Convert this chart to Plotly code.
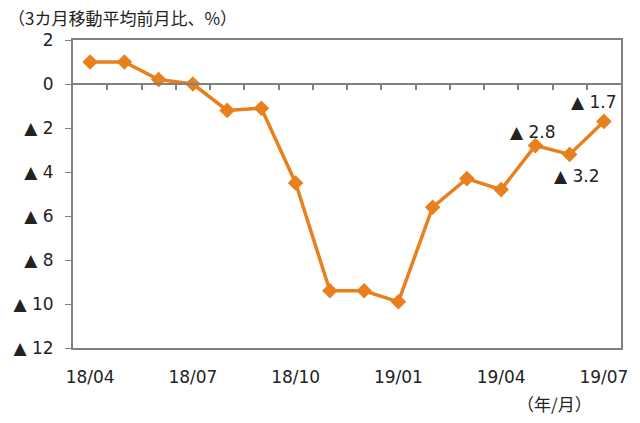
import plotly.graph_objects as go

months = ["18/04", "18/05", "18/06", "18/07", "18/08", "18/09", "18/10", "18/11",
          "18/12", "19/01", "19/02", "19/03", "19/04", "19/05", "19/06", "19/07"]
values = [1.0, 1.0, 0.2, 0.0, -1.2, -1.1, -4.5, -9.4, -9.4, -9.9, -5.6, -4.3, -4.8, -2.8, -3.2, -1.7]
x_labels = ["18/04", "18/07", "18/10", "19/01", "19/04", "19/07"]
y_ticks = [2, 0, -2, -4, -6, -8, -10, -12]
y_text = ["2", "0", "▲ 2", "▲ 4", "▲ 6", "▲ 8", "▲ 10", "▲ 12"]
labelled = {"19/05": (-2, 14), "19/06": (7, -22), "19/07": (-10, 19)}

font = "DejaVu Sans, Noto Sans CJK JP"
jp_font = "Noto Sans CJK JP"
orange = "#E8801E"

fig = go.Figure()
fig.add_trace(go.Scatter(
    x=list(range(len(months))), y=values, mode="lines+markers",
    line=dict(color=orange, width=3.5),
    marker=dict(symbol="diamond", size=12, color=orange),
    showlegend=False, hoverinfo="skip",
))
# invisible trace so the tick axis along zero gets drawn
fig.add_trace(go.Scatter(x=[0], y=[0], xaxis="x2", mode="markers",
                         marker=dict(opacity=0), showlegend=False, hoverinfo="skip"))

for m, (dx, dy) in labelled.items():
    i = months.index(m)
    fig.add_annotation(x=i, y=values[i], text="▲ %.1f" % abs(values[i]),
                       showarrow=False, xshift=dx, yshift=dy,
                       font=dict(family=font, size=17, color="#222"))

fig.add_annotation(x=0, y=1, xref="paper", yref="paper", xanchor="left", yanchor="middle",
                   xshift=-67, yshift=23, text="（3カ月移動平均前月比、%）", showarrow=False,
                   font=dict(family=jp_font, size=17, color="#222"))
fig.add_annotation(x=1, y=0, xref="paper", yref="paper", xanchor="right", yanchor="middle",
                   xshift=-27, yshift=-55, text="（年/月）", showarrow=False,
                   font=dict(family=jp_font, size=17, color="#222"))

n = len(months)
fig.update_layout(
    width=640, height=423,
    margin=dict(l=73, r=15, t=40, b=75),
    plot_bgcolor="white", paper_bgcolor="white",
    font=dict(family=font, size=17, color="#222"),
    xaxis=dict(range=[-0.5, n - 0.5], tickvals=[months.index(s) for s in x_labels],
               ticktext=x_labels, ticks="", showline=True, mirror=True,
               linecolor="#808080", linewidth=2, showgrid=False, zeroline=False,
               ticklabelstandoff=13, tickfont=dict(size=17)),
    xaxis2=dict(range=[-0.5, n - 0.5], overlaying="x", anchor="free",
                position=12 / 14, tickvals=[i + 0.5 for i in range(n - 1)],
                showticklabels=False, ticks="outside", ticklen=5, tickwidth=1.5,
                tickcolor="#808080", showline=True, linecolor="#808080", linewidth=1.5,
                showgrid=False, zeroline=False),
    yaxis=dict(range=[-12, 2], tickvals=y_ticks, ticktext=y_text, ticks="outside",
               ticklen=6, tickcolor="#808080", showline=True, mirror=True,
               linecolor="#808080", linewidth=2, showgrid=False, zeroline=False,
               ticklabelstandoff=8, tickfont=dict(size=17)),
)

fig.write_html("out.html", config={"displayModeBar": False},
               post_script="document.body.style.margin='0';")
